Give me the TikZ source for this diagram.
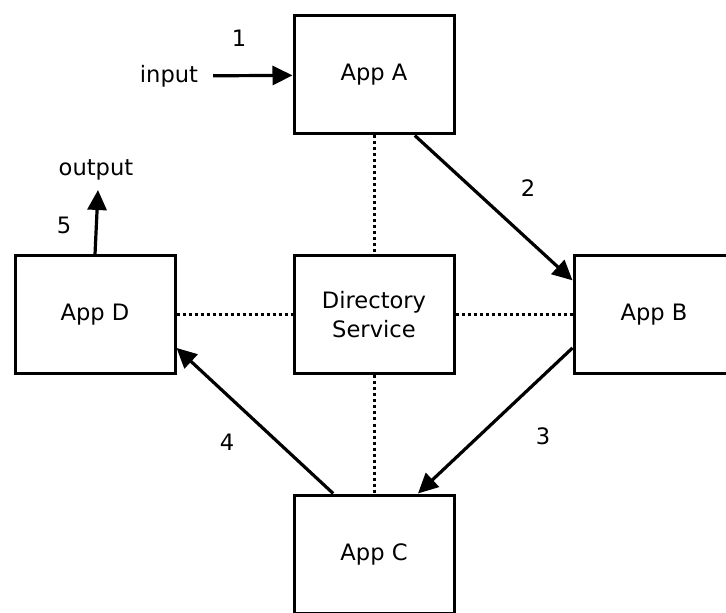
\documentclass[tikz,border=0pt]{standalone}
\usepackage{fontspec}
\setmainfont{DejaVu Sans}
\usetikzlibrary{arrows.meta}

\begin{document}
\begin{tikzpicture}[x=0.5pt, y=-0.5pt, >={Triangle[length=10pt,width=9.5pt]},
  font=\fontsize{11.3}{14.5}\selectfont,
  app/.style={draw, line width=1.5pt, minimum width=80pt, minimum height=59pt,
    align=center, inner sep=0pt},
  flow/.style={->, line width=1.6pt},
  lookup/.style={line width=1.5pt, dash pattern=on 1.5pt off 1.5pt}]
  \clip (0,0) rectangle (726,613);

  % Directory in the middle, apps round it
  \node[app] (dir) at (374,315) {Directory\\Service};
  \node[app] (A) at (374,75) {App A};
  \node[app] (B) at (654,315) {App B};
  \node[app] (C) at (374,554) {App C};
  \node[app] (D) at (95,315) {App D};

  % Lookups
  \draw[lookup] (A) -- (dir);
  \draw[lookup] (dir) -- (C);
  \draw[lookup] (D) -- (dir);
  \draw[lookup] (dir) -- (B);

  % In and out
  \node (input) at (169,76) {input};
  \node (output) at (96,170) {output};
  \coordinate (out) at (98,190);

  % Message flow
  \draw[flow, shorten <=4pt] (input) -- (A);
  \draw[flow] (A.-56) -- (B.157);
  \draw[flow] (B.-158) -- (C.54);
  \draw[flow] (C.124) -- (D.-22);
  \draw[flow] (D.north) -- (out);

  % Step numbers
  \node (n1) at (239,38) {1};
  \node (n2) at (528,188) {2};
  \node (n3) at (543,436) {3};
  \node (n4) at (227,442) {4};
  \node (n5) at (64,225) {5};
\end{tikzpicture}
\end{document}
